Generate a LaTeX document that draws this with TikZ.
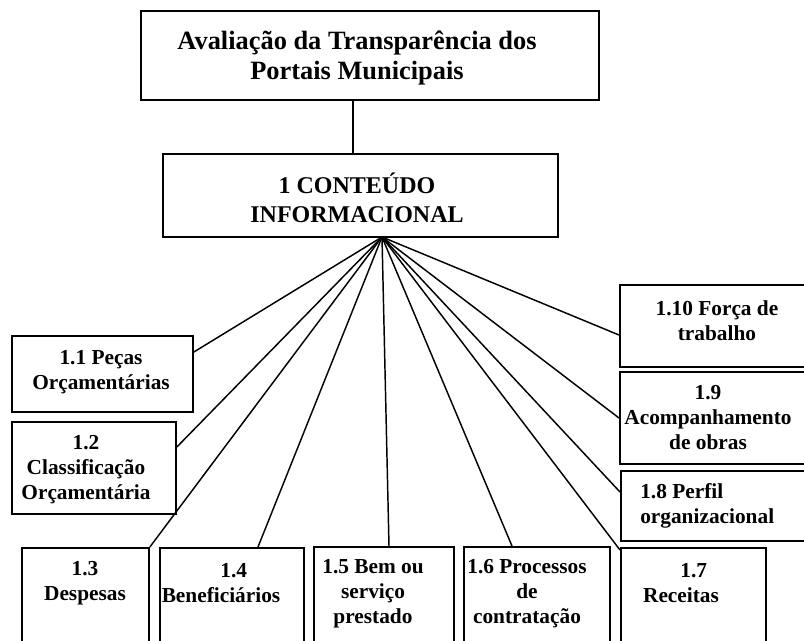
\documentclass[tikz,border=0pt]{standalone}
\usepackage{fontspec}
\setmainfont{Liberation Serif}
\usetikzlibrary{calc}
\usepackage{xcolor}

\tikzset{
  box/.style={draw, line width=1.4pt, rectangle, inner sep=0pt, anchor=north west},
  sz/.style 2 args={minimum width=#1*0.75pt, minimum height=#2*0.75pt},
  lbl/.style={font=\bfseries\fontsize{16}{18.75}\selectfont, align=center, inner sep=0pt},
  hdr/.style={font=\bfseries\fontsize{19.8}{22}\selectfont, align=center, inner sep=0pt},
  link/.style={line width=1.1pt}
}

\begin{document}
\begin{tikzpicture}[x=0.75pt,y=-0.75pt]
      \clip (0,0) rectangle (804,640);

      % Top levels
      \node[box, sz={458}{89}] (top) at (140,10) {};
      \node[hdr] (ttop) at (357,58) {Avaliação da Transparência dos\\Portais Municipais};
      \node[box, sz={395}{83}] (main) at (162,153) {};
      \node[hdr, font=\bfseries\fontsize{18}{22}\selectfont] (tmain) at (357,198) {1 CONTEÚDO\\INFORMACIONAL};
      \draw[link] (top.south -| 353,0) -- (main.north -| 353,0);

      % Left boxes
      \node[box, sz={181}{76}] (b11) at (11,335) {};
      \node[lbl] (t11) at (101,372) {1.1 Peças\\Orçamentárias};
      \node[box, sz={164}{92}] (b12) at (11,421) {};
      \node[lbl] (t12) at (86,470) {1.2\\Classificação\\Orçamentária};

      % Bottom boxes
      \node[box, sz={127}{110}] (b13) at (21,547) {};
      \node[lbl] (t13) at (85,583) {1.3\\Despesas};
      \node[box, sz={144}{110}] (b14) at (159,547) {};
      \node[lbl] (t14) at (221,583) {\hspace*{1.2em}1.4\\Beneficiários};
      \node[box, sz={140}{110}] (b15) at (313,546) {};
      \node[lbl] (t15) at (373,594) {1.5 Bem ou\\serviço\\prestado};
      \node[box, sz={146}{110}] (b16) at (463,546) {};
      \node[lbl] (t16) at (527,594) {1.6 Processos\\de\\contratação};
      \node[box, sz={145}{110}] (b17) at (620,547) {};
      \node[lbl] (t17) at (681,583) {\hspace*{1.2em}1.7\\Receitas};

      % Right boxes
      \node[box, sz={200}{70}] (b18) at (620,470) {};
      \node[lbl, align=left, anchor=west] (t18) at (640,506) {1.8 Perfil\\organizacional};
      \node[box, sz={200}{92}] (b19) at (619,371) {};
      \node[lbl] (t19) at (708,418) {1.9\\Acompanhamento\\de obras};
      \node[box, sz={200}{82}] (b110) at (619,284) {};
      \node[lbl] (t110) at (717,321) {1.10 Força de\\trabalho};

      % Fan
      \coordinate (hub) at (382,237);
      \coordinate (e11) at ($(b11.north east)+(0,17)$);
      \coordinate (e12) at ($(b12.north east)+(0,26)$);
      \coordinate (e13) at (b13.north east);
      \coordinate (e14) at ($(b14.north west)+(99,0)$);
      \coordinate (e15) at ($(b15.north west)+(76,0)$);
      \coordinate (e16) at ($(b16.north west)+(49,0)$);
      \coordinate (e17) at ($(b17.north west)+(0,3)$);
      \coordinate (e18) at ($(b18.north west)+(0,22)$);
      \coordinate (e19) at ($(b19.north west)+(0,47)$);
      \coordinate (e110) at ($(b110.north west)+(0,51)$);
      \foreach \e in {e11,e12,e13,e14,e15,e16,e17,e18,e19,e110}
      {
        \draw[link] (hub) -- (\e);
      }

  \end{tikzpicture}
\end{document}
